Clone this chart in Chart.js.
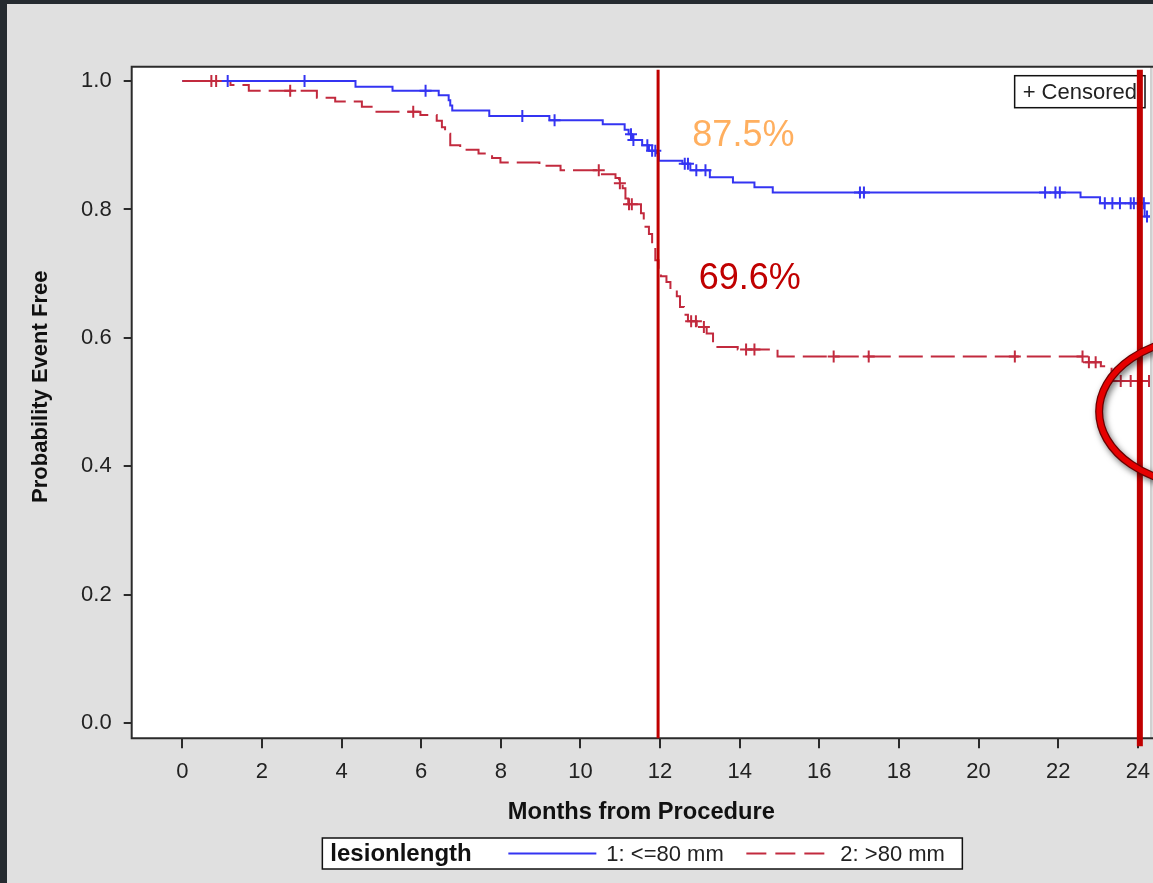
<!DOCTYPE html>
<html><head><meta charset="utf-8">
<script src="https://cdn.jsdelivr.net/npm/chart.js@4.4.1/dist/chart.umd.min.js"></script>
<style>
html,body{margin:0;padding:0;background:#252b30;overflow:hidden;width:1153px;height:883px;}
#panel{position:absolute;left:7px;top:4px;width:1146px;height:879px;background:#e0e0e0;}
canvas{display:block;}
</style></head><body>
<div id="panel"><canvas id="c" width="1146" height="879"></canvas></div>
<script>
// ---------- data ----------
const xTicks = [0, 2, 4, 6, 8, 10, 12, 14, 16, 18, 20, 22, 24];
const yTicks = [0, 0.2, 0.4, 0.6, 0.8, 1.0];
const seriesNames = ['1: <=80 mm', '2: >80 mm'];
const legendTitle = 'lesionlength';
const censorLabel = '+ Censored';
const xTitle = 'Months from Procedure';
const yTitle = 'Probability Event Free';
const pctLabels = ['87.5%', '69.6%'];
const refMonths = [11.95, 24.05];

// group 1 (<=80 mm): event times / survival
const blueT = [0, 4.35, 5.28, 6.44, 6.69, 6.73, 6.78, 7.71, 9.22, 10.56, 11.11, 11.21, 11.30, 11.55, 11.72, 11.91, 11.97, 12.56, 12.76, 13.25, 13.83, 14.37, 14.83, 22.56, 23.05, 24.17, 24.40];
const blueS = [1.0, 0.991, 0.985, 0.978, 0.970, 0.962, 0.954, 0.9455, 0.939, 0.9326, 0.924, 0.917, 0.908, 0.900, 0.8915, 0.8874, 0.876, 0.871, 0.861, 0.850, 0.842, 0.8345, 0.8264, 0.819, 0.8096, 0.789, 0.789];
const blueCensor = [1.14, 3.07, 6.11, 8.54, 9.35, 11.27, 11.33, 11.68, 11.80, 11.88, 12.62, 12.70, 12.91, 13.14, 17.02, 17.12, 21.67, 21.93, 22.04, 23.17, 23.36, 23.55, 23.82, 23.90, 24.00, 24.15, 24.23];

// group 2 (>80 mm)
const redT = [0, 1.21, 1.67, 3.38, 3.84, 4.51, 4.85, 5.98, 6.39, 6.52, 6.60, 6.73, 6.98, 7.44, 7.78, 7.99, 8.97, 9.50, 10.54, 10.88, 10.97, 11.06, 11.13, 11.20, 11.52, 11.59, 11.72, 11.80, 11.88, 11.96, 12.02, 12.16, 12.26, 12.42, 12.50, 12.60, 12.70, 12.92, 13.17, 13.33, 13.95, 14.95, 22.65, 22.70, 23.07, 23.34, 24.40];
const redS = [1.0, 0.994, 0.985, 0.974, 0.968, 0.960, 0.952, 0.947, 0.938, 0.928, 0.918, 0.900, 0.893, 0.887, 0.880, 0.873, 0.868, 0.861, 0.855, 0.849, 0.841, 0.833, 0.817, 0.808, 0.794, 0.773, 0.762, 0.745, 0.721, 0.706, 0.696, 0.687, 0.675, 0.665, 0.648, 0.636, 0.626, 0.617, 0.607, 0.586, 0.582, 0.571, 0.566, 0.562, 0.556, 0.533, 0.533];
const redCensor = [0.73, 0.85, 2.71, 5.80, 10.46, 10.99, 11.22, 11.29, 12.78, 12.90, 13.10, 14.16, 14.37, 16.36, 17.24, 20.91, 22.61, 22.77, 22.94, 23.57, 23.82, 24.03, 24.28];

// ---------- helpers ----------
const FONT = "'Liberation Sans', Arial, sans-serif";
const BLUE = '#3434f2';
const RED = '#c22a3e';
function curve(T, S) { return T.map((t, i) => ({x: t, y: S[i]})); }
function survAt(T, S, c) { let v = S[0]; for (let i = 0; i < T.length; i++) { if (T[i] <= c) v = S[i]; } return v; }
function marks(C, T, S) { return C.map(c => ({x: c, y: survAt(T, S, c)})); }

const decor = {
  id: 'decor',
  beforeDraw(chart) {
    const {ctx, chartArea: a} = chart;
    ctx.save();
    ctx.fillStyle = '#e0e0e0'; ctx.fillRect(0, 0, chart.width, chart.height);
    ctx.fillStyle = '#ffffff'; ctx.fillRect(a.left, a.top, a.right - a.left, a.bottom - a.top);
    ctx.restore();
  },
  afterDraw(chart) {
    const {ctx, chartArea: a, scales} = chart;
    const X = v => scales.x.getPixelForValue(v), Y = v => scales.y.getPixelForValue(v);
    ctx.save();
    // frame (right edge is at the cropped border, only faintly visible)
    ctx.lineWidth = 2;
    ctx.strokeStyle = '#d0d0d0';
    ctx.beginPath(); ctx.moveTo(a.right, a.top); ctx.lineTo(a.right, a.bottom); ctx.stroke();
    ctx.strokeStyle = '#2b2b2b';
    ctx.beginPath(); ctx.moveTo(a.right + 2, a.top); ctx.lineTo(a.left, a.top); ctx.lineTo(a.left, a.bottom); ctx.lineTo(a.right + 2, a.bottom); ctx.stroke();
    // y-axis title
    ctx.save();
    ctx.translate(39.7, Y(0.524));
    ctx.rotate(-Math.PI / 2);
    ctx.font = `bold 22px ${FONT}`; ctx.fillStyle = '#111'; ctx.textAlign = 'center'; ctx.textBaseline = 'alphabetic';
    ctx.fillText(yTitle, 0, 0);
    ctx.restore();
    // censored inset
    ctx.font = `22px ${FONT}`;
    const cw = ctx.measureText(censorLabel).width;
    const bx2 = a.right - 6, by = a.top + 9, bh = 32, bx = bx2 - cw - 16;
    ctx.fillStyle = '#fff'; ctx.fillRect(bx, by, bx2 - bx, bh);
    ctx.strokeStyle = '#111'; ctx.lineWidth = 1.5; ctx.strokeRect(bx, by, bx2 - bx, bh);
    ctx.fillStyle = '#222'; ctx.textBaseline = 'middle'; ctx.textAlign = 'left';
    ctx.fillText(censorLabel, bx + 8, by + bh / 2 + 1);
    // reference lines
    ctx.strokeStyle = '#c00000';
    refMonths.forEach((m, i) => {
      const x = X(m);
      ctx.lineWidth = i === 0 ? 3 : 6;
      ctx.beginPath(); ctx.moveTo(x, a.top + 3); ctx.lineTo(x, i === 0 ? a.bottom : a.bottom + 8); ctx.stroke();
    });
    // percentage annotations
    ctx.font = `36px ${FONT}`; ctx.textBaseline = 'alphabetic';
    ctx.fillStyle = '#ffaf5f'; ctx.fillText(pctLabels[0], X(12.81), Y(0.899));
    ctx.fillStyle = '#c00000'; ctx.fillText(pctLabels[1], X(12.97), Y(0.6757));
    // hand-drawn ellipse
    ctx.save();
    ctx.shadowColor = 'rgba(0,0,0,0.55)'; ctx.shadowBlur = 6; ctx.shadowOffsetX = 2; ctx.shadowOffsetY = 3;
    ctx.strokeStyle = '#6a0000'; ctx.lineWidth = 8;
    ctx.beginPath(); ctx.ellipse(X(25.79), Y(0.4854), 110, 75, 0, 0, Math.PI * 2); ctx.stroke();
    ctx.restore();
    ctx.strokeStyle = '#e60000'; ctx.lineWidth = 5.5;
    ctx.beginPath(); ctx.ellipse(X(25.79), Y(0.4854), 110, 75, 0, 0, Math.PI * 2); ctx.stroke();
    // bottom legend
    const cx = (a.left + a.right) / 2;
    const lx = cx - 319, ly = chart.height - 45, lw = 640, lh = 31, my = ly + lh / 2;
    ctx.fillStyle = '#fff'; ctx.fillRect(lx, ly, lw, lh);
    ctx.strokeStyle = '#111'; ctx.lineWidth = 1.5; ctx.strokeRect(lx, ly, lw, lh);
    ctx.textBaseline = 'middle'; ctx.textAlign = 'left';
    ctx.fillStyle = '#111'; ctx.font = `bold 24px ${FONT}`;
    ctx.fillText(legendTitle, lx + 8, my + 1);
    ctx.strokeStyle = BLUE; ctx.lineWidth = 2;
    ctx.beginPath(); ctx.moveTo(lx + 186, my); ctx.lineTo(lx + 274, my); ctx.stroke();
    ctx.font = `22px ${FONT}`; ctx.fillStyle = '#222';
    ctx.fillText(seriesNames[0], lx + 284, my + 1);
    ctx.strokeStyle = RED; ctx.setLineDash([20, 9]);
    ctx.beginPath(); ctx.moveTo(lx + 424, my); ctx.lineTo(lx + 502, my); ctx.stroke();
    ctx.setLineDash([]);
    ctx.fillText(seriesNames[1], lx + 518, my + 1);
    ctx.restore();
  }
};

const zeroPad = s => { s.paddingLeft = 0; s.paddingRight = 0; s.paddingTop = 0; s.paddingBottom = 0; };

new Chart(document.getElementById('c'), {
  type: 'line',
  data: {
    datasets: [
      {label: seriesNames[0], data: curve(blueT, blueS), borderColor: BLUE, borderWidth: 2, stepped: true, pointRadius: 0, fill: false, order: 2},
      {label: seriesNames[1], data: curve(redT, redS), borderColor: RED, borderWidth: 2, borderDash: [24, 8], stepped: true, pointRadius: 0, fill: false, order: 1},
      {type: 'scatter', label: 'c1', data: marks(blueCensor, blueT, blueS), pointStyle: 'cross', pointRadius: 6, borderColor: BLUE, borderWidth: 2, showLine: false, order: 0},
      {type: 'scatter', label: 'c2', data: marks(redCensor, redT, redS), pointStyle: 'cross', pointRadius: 6, borderColor: RED, borderWidth: 2, showLine: false, order: 0}
    ]
  },
  options: {
    responsive: false, animation: false, devicePixelRatio: 1, events: [],
    layout: {autoPadding: false, padding: {left: 0, top: 62.7, right: 2, bottom: 0}},
    plugins: {legend: {display: false}, tooltip: {enabled: false}},
    scales: {
      x: {
        type: 'linear', min: -1.271, max: 24.33,
        afterBuildTicks: s => { s.ticks = xTicks.map(v => ({value: v})); },
        afterFit: s => { s.height = 144.7; zeroPad(s); },
        grid: {display: true, drawOnChartArea: false, drawTicks: true, tickLength: 10, color: '#2b2b2b', lineWidth: 2},
        border: {display: false},
        ticks: {font: {family: FONT, size: 22}, color: '#222', padding: 10, autoSkip: false, maxRotation: 0, callback: v => String(v)},
        title: {display: true, text: xTitle, color: '#111', font: {family: FONT, size: 23.7, weight: 'bold'}, padding: {top: 0, bottom: 56.6}}
      },
      y: {
        type: 'linear', min: -0.0234, max: 1.0223,
        afterBuildTicks: s => { s.ticks = yTicks.map(v => ({value: v})); },
        afterFit: s => { s.width = 124.7; zeroPad(s); },
        grid: {display: true, drawOnChartArea: false, drawTicks: true, tickLength: 8, color: '#2b2b2b', lineWidth: 2},
        border: {display: false},
        ticks: {font: {family: FONT, size: 22}, color: '#222', padding: 12, callback: v => v.toFixed(1)},
        title: {display: false}
      }
    }
  },
  plugins: [decor]
});
</script></body></html>
